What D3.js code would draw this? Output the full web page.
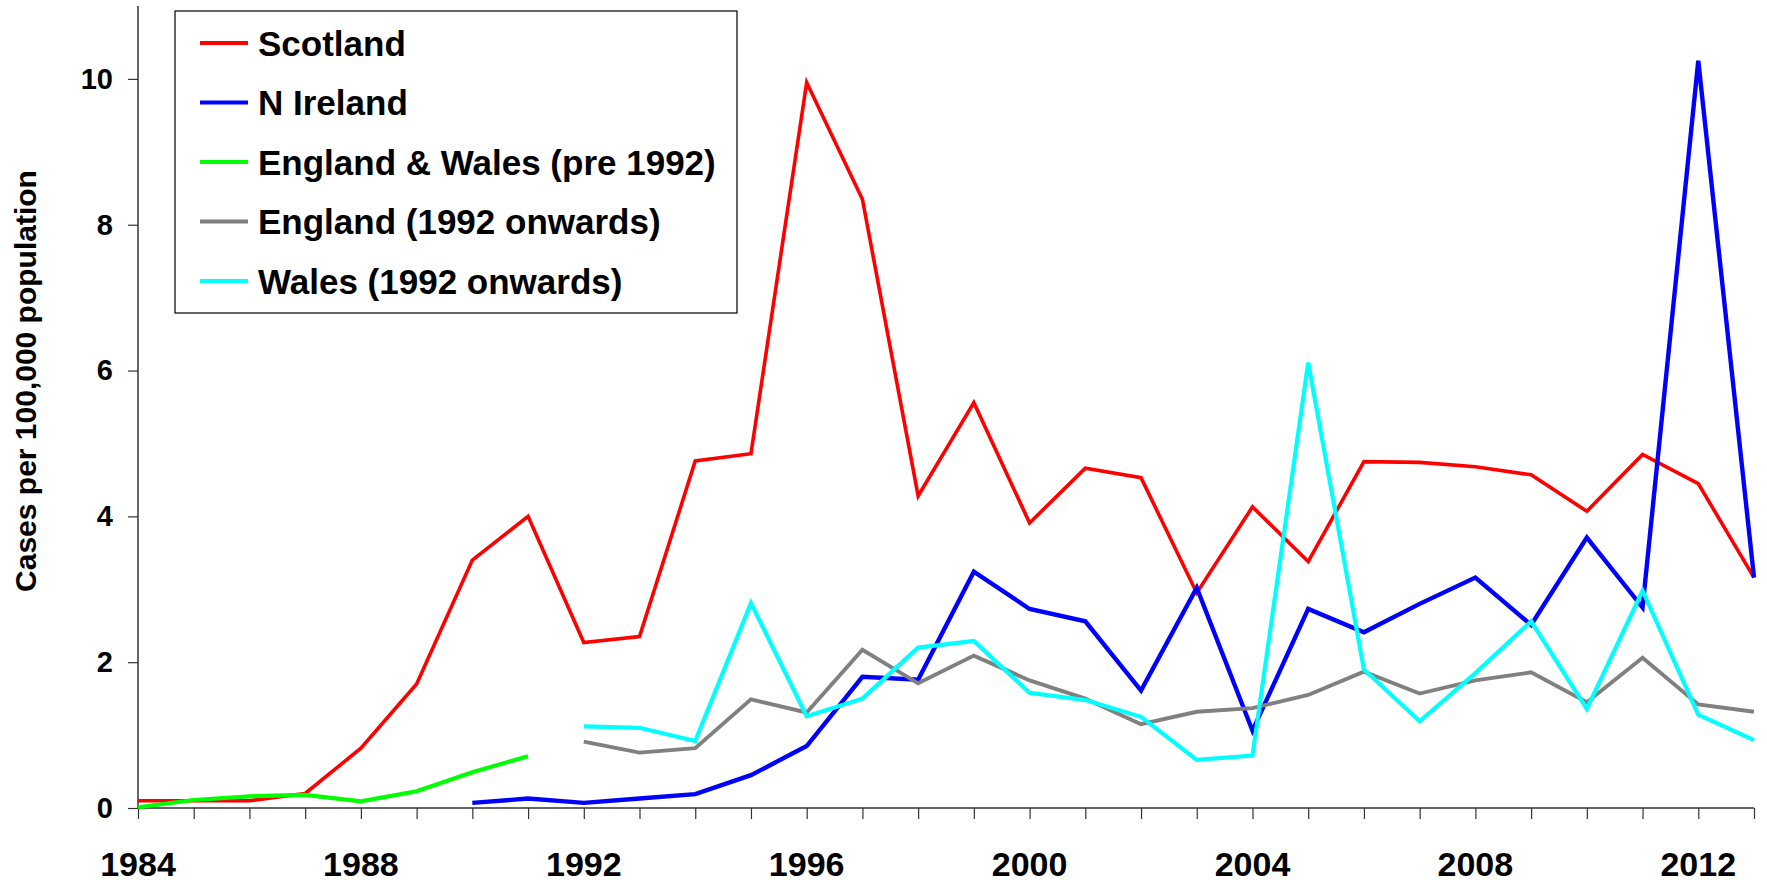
<!DOCTYPE html>
<html>
<head>
<meta charset="utf-8">
<script src="https://cdn.jsdelivr.net/npm/d3@7"></script>
<style>
  body { margin: 0; background: #fff; }
  svg { display: block; font-family: "Liberation Sans", Arial, sans-serif; font-weight: bold; }
</style>
</head>
<body>
<div id="chart"></div>
<script>
// years along the x axis
const years = d3.range(1984, 2014);
const xTickYears = [1984, 1988, 1992, 1996, 2000, 2004, 2008, 2012];
const yTicks = [0, 2, 4, 6, 8, 10];

// cases per 100,000 population, null where no data
const scotland = [0.1, 0.1, 0.1, 0.2, 0.82, 1.7, 3.4, 4.0, 2.27, 2.35, 4.76, 4.86, 9.95, 8.35,
  4.28, 5.56, 3.91, 4.66, 4.53, 2.95, 4.13, 3.38, 4.75, 4.74, 4.68, 4.57, 4.07, 4.85, 4.45, 3.16];
const nIreland = [null, null, null, null, null, null, 0.07, 0.13, 0.07, 0.13, 0.19, 0.45, 0.85, 1.80,
  1.76, 3.24, 2.73, 2.56, 1.61, 3.02, 1.06, 2.73, 2.41, 2.80, 3.16, 2.51, 3.71, 2.75, 10.25, 3.16];
const englandWalesPre = [0.01, 0.11, 0.16, 0.18, 0.09, 0.23, 0.49, 0.71, null, null, null, null, null, null,
  null, null, null, null, null, null, null, null, null, null, null, null, null, null, null, null];
const england = [null, null, null, null, null, null, null, null, 0.91, 0.76, 0.82, 1.49, 1.31, 2.17,
  1.71, 2.09, 1.75, 1.50, 1.15, 1.32, 1.37, 1.55, 1.87, 1.57, 1.75, 1.86, 1.45, 2.06, 1.42, 1.32];
const wales = [null, null, null, null, null, null, null, null, 1.12, 1.10, 0.92, 2.81, 1.26, 1.50,
  2.20, 2.29, 1.58, 1.48, 1.25, 0.66, 0.72, 6.11, 1.90, 1.19, 1.85, 2.56, 1.36, 2.98, 1.28, 0.93];

const series = [
  { name: "Scotland", values: scotland, color: "#ff0000", width: 3.6 },
  { name: "N Ireland", values: nIreland, color: "#0000ff", width: 4.4 },
  { name: "England & Wales (pre 1992)", values: englandWalesPre, color: "#00ff00", width: 4.2 },
  { name: "England (1992 onwards)", values: england, color: "#808080", width: 3.9 },
  { name: "Wales (1992 onwards)", values: wales, color: "#00ffff", width: 4.2 }
];

const width = 1767, height = 883;
const margin = { left: 138, right: 13, top: 6, bottom: 75 };

const svg = d3.select("#chart").append("svg")
  .attr("width", width)
  .attr("height", height);

const x = d3.scaleLinear().domain([1984, 2013]).range([margin.left, width - margin.right]);
const y = d3.scaleLinear().domain([0, 11]).range([height - margin.bottom, margin.top]);

// y axis
const yAxis = svg.append("g")
  .attr("transform", `translate(${margin.left},0)`)
  .call(d3.axisLeft(y).tickValues(yTicks).tickSize(10).tickPadding(15).tickFormat(d3.format("d")));
yAxis.select(".domain").attr("d", `M0,${y(0)}V${margin.top}`).attr("stroke", "#333").attr("stroke-width", 1.5);
yAxis.selectAll(".tick line").attr("stroke", "#333").attr("stroke-width", 1.2);
yAxis.selectAll(".tick text").attr("font-size", 29).attr("font-weight", "bold")
  .attr("font-family", "Liberation Sans, Arial, sans-serif").attr("fill", "#000");

// x axis
const xAxis = svg.append("g")
  .attr("transform", `translate(0,${y(0)})`)
  .call(d3.axisBottom(x).tickValues(years).tickSize(11).tickFormat(""));
xAxis.select(".domain").attr("d", `M${x(1984)},0H${x(2013)}`).attr("stroke", "#333").attr("stroke-width", 1.5);
xAxis.selectAll(".tick line").attr("stroke", "#333").attr("stroke-width", 1.2);

svg.append("g").selectAll("text")
  .data(xTickYears)
  .join("text")
  .attr("x", d => x(d))
  .attr("y", y(0) + 68)
  .attr("text-anchor", "middle")
  .attr("font-size", 34)
  .text(d => d);

// y axis title
svg.append("text")
  .attr("transform", `translate(36,${(y(0) + margin.top) / 2 - 26}) rotate(-90)`)
  .attr("text-anchor", "middle")
  .attr("font-size", 30)
  .text("Cases per 100,000 population");

// lines
const line = d3.line()
  .defined(d => d[1] !== null)
  .x(d => x(d[0]))
  .y(d => y(d[1]));

svg.append("g").selectAll("path")
  .data(series)
  .join("path")
  .attr("fill", "none")
  .attr("stroke", d => d.color)
  .attr("stroke-width", d => d.width)
  .attr("stroke-linejoin", "miter")
  .attr("d", d => line(years.map((yr, i) => [yr, d.values[i]])));

// legend
const legend = svg.append("g");
legend.append("rect")
  .attr("x", 175).attr("y", 11)
  .attr("width", 562).attr("height", 302)
  .attr("fill", "#fff").attr("stroke", "#000").attr("stroke-width", 1.2);

const rows = legend.selectAll("g.row")
  .data(series)
  .join("g")
  .attr("class", "row")
  .attr("transform", (d, i) => `translate(0,${43 + i * 59.5})`);
rows.append("line")
  .attr("x1", 200).attr("x2", 248)
  .attr("stroke", d => d.color)
  .attr("stroke-width", 4);
rows.append("text")
  .attr("x", 258)
  .attr("dy", "0.36em")
  .attr("font-size", 35)
  .text(d => d.name);
</script>
</body>
</html>
